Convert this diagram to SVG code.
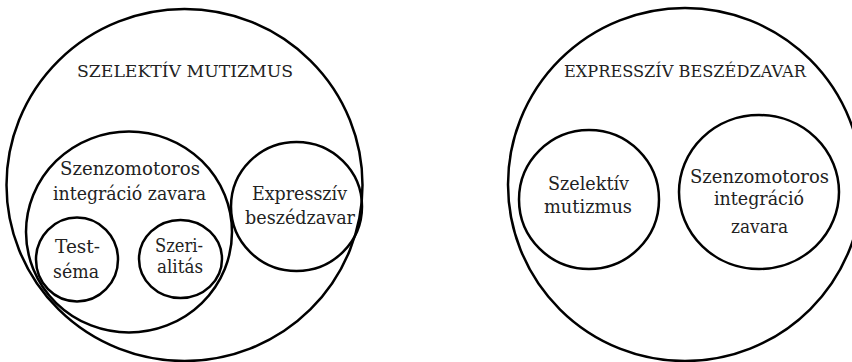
<svg xmlns="http://www.w3.org/2000/svg" width="852" height="362" viewBox="0 0 852 362">
<style>
.c{fill:none;stroke:#000;stroke-width:2.5}
.t{font-family:"DejaVu Serif","Liberation Serif",serif;font-size:19px;fill:#222;text-anchor:middle}
.h{font-family:"DejaVu Serif","Liberation Serif",serif;font-size:16.5px;fill:#222;text-anchor:middle}
</style>
<rect width="852" height="362" fill="#fff"/>
<g id="szelektiv-mutizmus">
<ellipse class="c" cx="184.5" cy="185" rx="178" ry="176"/>
<text class="h" x="185" y="77" textLength="216" lengthAdjust="spacingAndGlyphs">SZELEKTÍV MUTIZMUS</text>
</g>
<g id="szenzomotoros-left">
<ellipse class="c" cx="129" cy="232" rx="103" ry="100.5"/>
<text class="t" x="130" y="175" textLength="140" lengthAdjust="spacingAndGlyphs">Szenzomotoros</text>
<text class="t" x="129.5" y="200" textLength="153" lengthAdjust="spacingAndGlyphs">integráció zavara</text>
</g>
<g id="testsema">
<ellipse class="c" cx="77" cy="259.5" rx="41" ry="42"/>
<text class="t" x="77.5" y="253" textLength="45" lengthAdjust="spacingAndGlyphs">Test-</text>
<text class="t" x="76" y="278" textLength="46" lengthAdjust="spacingAndGlyphs">séma</text>
</g>
<g id="szerialitas">
<ellipse class="c" cx="180.5" cy="259" rx="41.5" ry="39"/>
<text class="t" x="179" y="252" textLength="48" lengthAdjust="spacingAndGlyphs">Szeri-</text>
<text class="t" x="180" y="273" textLength="46" lengthAdjust="spacingAndGlyphs">alitás</text>
</g>
<g id="expressziv-left">
<ellipse class="c" cx="296.5" cy="206.5" rx="65.5" ry="64.5"/>
<text class="t" x="299.5" y="200" textLength="95" lengthAdjust="spacingAndGlyphs">Expresszív</text>
<text class="t" x="300" y="224" textLength="110" lengthAdjust="spacingAndGlyphs">beszédzavar</text>
</g>
<g id="expressziv-beszedzavar">
<ellipse class="c" cx="685" cy="184.5" rx="177" ry="176.5"/>
<text class="h" x="685" y="77" textLength="242" lengthAdjust="spacingAndGlyphs">EXPRESSZÍV BESZÉDZAVAR</text>
</g>
<g id="szelektiv-right">
<ellipse class="c" cx="589" cy="199.5" rx="70" ry="69.5"/>
<text class="t" x="588.5" y="190" textLength="81" lengthAdjust="spacingAndGlyphs">Szelektív</text>
<text class="t" x="588" y="213" textLength="88" lengthAdjust="spacingAndGlyphs">mutizmus</text>
</g>
<g id="szenzomotoros-right">
<ellipse class="c" cx="759" cy="192" rx="80" ry="77"/>
<text class="t" x="759.5" y="183" textLength="139" lengthAdjust="spacingAndGlyphs">Szenzomotoros</text>
<text class="t" x="759" y="205" textLength="90" lengthAdjust="spacingAndGlyphs">integráció</text>
<text class="t" x="759.5" y="233" textLength="57" lengthAdjust="spacingAndGlyphs">zavara</text>
</g>
<g id="connectors"/>
</svg>
